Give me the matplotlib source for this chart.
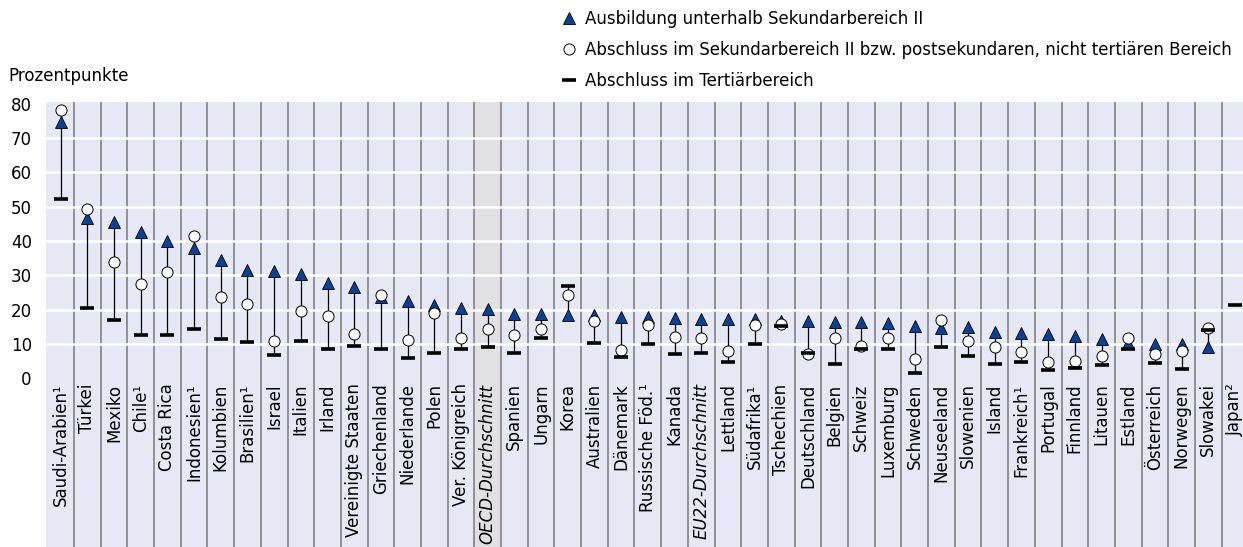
import numpy as np
import matplotlib.pyplot as plt
from matplotlib.lines import Line2D

plt.rcParams['font.family'] = ['DejaVu Sans']

# Categories and values (percentage points)
countries = [
    "Saudi-Arabien¹", "Türkei", "Mexiko", "Chile¹", "Costa Rica", "Indonesien¹",
    "Kolumbien", "Brasilien¹", "Israel", "Italien", "Irland", "Vereinigte Staaten",
    "Griechenland", "Niederlande", "Polen", "Ver. Königreich", "OECD-Durchschnitt",
    "Spanien", "Ungarn", "Korea", "Australien", "Dänemark", "Russische Föd.¹",
    "Kanada", "EU22-Durchschnitt", "Lettland", "Südafrika¹", "Tschechien",
    "Deutschland", "Belgien", "Schweiz", "Luxemburg", "Schweden", "Neuseeland",
    "Slowenien", "Island", "Frankreich¹", "Portugal", "Finnland", "Litauen",
    "Estland", "Österreich", "Norwegen", "Slowakei", "Japan²",
]

below_upper_secondary = [
    74.8, 46.6, 45.5, 42.6, 40.0, 38.0, 34.6, 31.5, 31.4, 30.3, 27.9, 26.7,
    23.8, 22.6, 21.4, 20.4, 20.2, 18.8, 18.6, 18.3, 18.3, 17.9, 17.9, 17.6,
    17.4, 17.4, 17.4, 16.8, 16.6, 16.3, 16.3, 16.1, 15.3, 14.7, 14.9, 13.6,
    13.2, 13.0, 12.4, 11.5, 10.3, 10.1, 9.9, 9.0, np.nan,
]

upper_secondary = [
    78.3, 49.3, 34.0, 27.6, 31.1, 41.4, 23.8, 21.7, 10.8, 19.6, 18.1, 13.0,
    24.4, 11.3, 19.1, 11.6, 14.5, 12.7, 14.5, 24.2, 16.8, 8.3, 15.6, 12.0,
    11.8, 8.0, 15.6, 15.9, 7.0, 11.7, 9.4, 11.6, 5.5, 17.0, 11.0, 9.2,
    7.6, 4.8, 5.1, 6.6, 11.7, 7.2, 8.0, 14.8, np.nan,
]

tertiary = [
    52.3, 20.5, 17.0, 12.5, 12.5, 14.4, 11.5, 10.5, 6.7, 10.9, 8.5, 9.4,
    8.5, 5.8, 7.5, 8.5, 9.0, 7.3, 11.7, 26.8, 10.2, 6.1, 10.1, 7.1,
    7.3, 4.8, 10.0, 15.2, 7.3, 4.2, 8.5, 8.6, 1.6, 9.1, 6.6, 4.2,
    4.8, 2.4, 3.0, 3.9, 8.5, 4.4, 2.7, 14.1, 21.4,
]

italic_labels = {"OECD-Durchschnitt", "EU22-Durchschnitt"}
y_ticks = [0, 10, 20, 30, 40, 50, 60, 70, 80]

blue = "#0b4194"
bg = "#e6e8f5"
fs = 12

fig = plt.figure(figsize=(12.43, 5.47), dpi=100)
W, H = 1243, 547
ax = fig.add_axes([45.7 / W, 0, 1 - 45.7 / W, 1 - 102 / H])
ax.set_facecolor(bg)

x = np.arange(len(countries))
low = np.array(below_upper_secondary)
mid = np.array(upper_secondary)
ter = np.array(tertiary)
vals = np.vstack([low, mid, ter])
ymin = np.nanmin(vals, axis=0)
ymax = np.nanmax(vals, axis=0)

# shaded OECD column
oecd_idx = countries.index("OECD-Durchschnitt")
ax.axvspan(oecd_idx - 0.5, oecd_idx + 0.5, color="#e1e1e4", zorder=0)

# column separators
for i in range(len(countries) - 1):
    ax.axvline(i + 0.5, color="#7a7a7a", lw=1.1, zorder=1)

# white grid lines
for v in y_ticks[1:-1]:
    ax.axhline(v, color="white", lw=1.8, zorder=2)

ax.vlines(x, ymin, ymax, color="black", lw=0.9, zorder=3)
ax.plot(x, low, ls="none", marker="^", ms=9, mfc=blue, mec="black", mew=0.6, zorder=4)
ax.plot(x, mid, ls="none", marker="o", ms=8, mfc="white", mec="black", mew=0.7, zorder=5)
ax.plot(x, ter, ls="none", marker="_", ms=10.5, mec="black", mew=2.6, zorder=6)

# category labels
for i, name in enumerate(countries):
    ax.text(i, -1.5, name, rotation=90, ha="center", va="top", fontsize=fs,
            style="italic" if name in italic_labels else "normal", zorder=7)

ax.set_xlim(-0.56, 44.30)
ax.set_ylim(-49.2, 80.55)
ax.set_yticks(y_ticks)
ax.set_yticklabels([str(v) for v in y_ticks], fontsize=fs)
ax.tick_params(axis="y", length=0, pad=10)
ax.set_xticks([])
for s in ax.spines.values():
    s.set_visible(False)

fig.text(8 / W, 1 - 76 / H, "Prozentpunkte", fontsize=fs, va="center", ha="left")

handles = [
    Line2D([], [], ls="none", marker="^", ms=9, mfc=blue, mec="black", mew=0.6),
    Line2D([], [], ls="none", marker="o", ms=8, mfc="white", mec="black", mew=0.7),
    Line2D([], [], ls="none", marker="_", ms=10.5, mec="black", mew=2.6),
]
labels = [
    "Ausbildung unterhalb Sekundarbereich II",
    "Abschluss im Sekundarbereich II bzw. postsekundaren, nicht tertiären Bereich",
    "Abschluss im Tertiärbereich",
]
fig.legend(handles, labels, loc="upper left", bbox_to_anchor=(561 / W, 1 - 10 / H),
           frameon=False, fontsize=fs, handlelength=1.0, handletextpad=0.45,
           borderpad=0, borderaxespad=0, labelspacing=0.78)

fig.savefig("out.png", dpi=100)
